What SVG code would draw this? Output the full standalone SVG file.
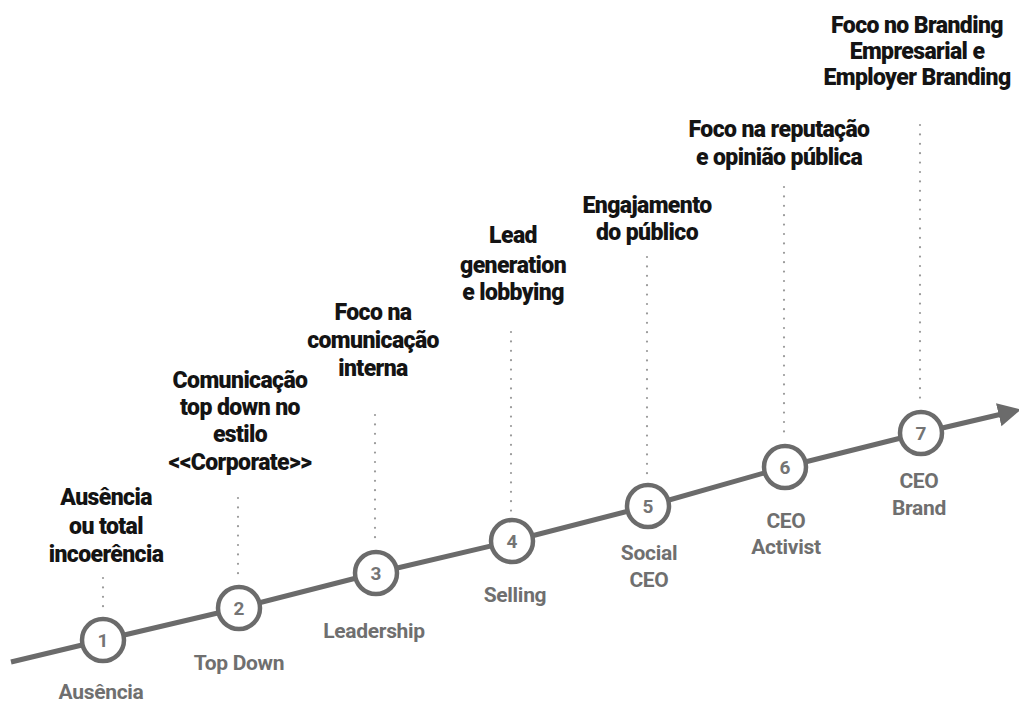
<svg xmlns="http://www.w3.org/2000/svg" width="1019" height="702" viewBox="0 0 1019 702">
<defs>
<style>
.desc{font-family:Roboto,"Liberation Sans",sans-serif;font-weight:900;font-size:23px;fill:#141414;text-anchor:middle;letter-spacing:-0.6px}
.lbl{font-family:Roboto,"Liberation Sans",sans-serif;font-weight:700;font-size:21px;fill:#6f6f6f;text-anchor:middle;letter-spacing:-0.3px}
.num{font-family:Roboto,"Liberation Sans",sans-serif;font-weight:700;font-size:19px;fill:#747474;text-anchor:middle}
.ring{fill:#ffffff;stroke:#6b6b6b;stroke-width:4.5}
.dots{stroke:#9a9a9a;stroke-width:2.2;stroke-linecap:round;stroke-dasharray:0 9.4;fill:none}
.axis{fill:none;stroke:#6b6b6b;stroke-width:5;stroke-linejoin:round}
</style>
<marker id="head" markerUnits="userSpaceOnUse" markerWidth="24" markerHeight="26" viewBox="0 -12 22 24" refX="5" refY="0" orient="auto">
<path d="M0,-11 L21,0 L0,11 z" fill="#6b6b6b"/>
</marker>
</defs>
<rect width="1019" height="702" fill="#ffffff"/>
<g id="connectors">
<polyline class="axis" points="11,662 103,640 239,608 376,573 512,541 648,506 785,467 921,433 1004,413.5" marker-end="url(#head)"/>
<line class="dots" x1="103" y1="578" x2="103" y2="612"/>
<line class="dots" x1="238" y1="498" x2="238" y2="580"/>
<line class="dots" x1="375" y1="415" x2="375" y2="546"/>
<line class="dots" x1="511" y1="332" x2="511" y2="513"/>
<line class="dots" x1="647" y1="257" x2="647" y2="480"/>
<line class="dots" x1="784" y1="187" x2="784" y2="440"/>
<line class="dots" x1="920" y1="125" x2="920" y2="406"/>
</g>
<g id="node1">
<circle class="ring" cx="103" cy="640" r="21"/>
<text class="num" x="103" y="647">1</text>
<text class="desc" x="106" y="505">Ausência</text>
<text class="desc" x="106" y="534">ou total</text>
<text class="desc" x="106" y="562">incoerência</text>
<text class="lbl" x="101" y="699">Ausência</text>
</g>
<g id="node2">
<circle class="ring" cx="239" cy="608" r="21"/>
<text class="num" x="239" y="615">2</text>
<text class="desc" x="240" y="388">Comunicação</text>
<text class="desc" x="240" y="415">top down no</text>
<text class="desc" x="240" y="442">estilo</text>
<text class="desc" x="240" y="470">&lt;&lt;Corporate&gt;&gt;</text>
<text class="lbl" x="239" y="670">Top Down</text>
</g>
<g id="node3">
<circle class="ring" cx="376" cy="573" r="21"/>
<text class="num" x="376" y="580">3</text>
<text class="desc" x="373" y="320">Foco na</text>
<text class="desc" x="373" y="348">comunicação</text>
<text class="desc" x="373" y="376">interna</text>
<text class="lbl" x="374" y="638">Leadership</text>
</g>
<g id="node4">
<circle class="ring" cx="512" cy="541" r="21"/>
<text class="num" x="512" y="548">4</text>
<text class="desc" x="513" y="243">Lead</text>
<text class="desc" x="513" y="273">generation</text>
<text class="desc" x="513" y="300">e lobbying</text>
<text class="lbl" x="515" y="602">Selling</text>
</g>
<g id="node5">
<circle class="ring" cx="648" cy="506" r="21"/>
<text class="num" x="648" y="513">5</text>
<text class="desc" x="647" y="213">Engajamento</text>
<text class="desc" x="647" y="240">do público</text>
<text class="lbl" x="649" y="560">Social</text>
<text class="lbl" x="649" y="587">CEO</text>
</g>
<g id="node6">
<circle class="ring" cx="785" cy="467" r="21"/>
<text class="num" x="785" y="474">6</text>
<text class="desc" x="779" y="137">Foco na reputação</text>
<text class="desc" x="779" y="165">e opinião pública</text>
<text class="lbl" x="786" y="528">CEO</text>
<text class="lbl" x="786" y="554">Activist</text>
</g>
<g id="node7">
<circle class="ring" cx="921" cy="433" r="21"/>
<text class="num" x="921" y="440">7</text>
<text class="desc" x="917" y="33">Foco no Branding</text>
<text class="desc" x="917" y="59">Empresarial e</text>
<text class="desc" x="917" y="85">Employer Branding</text>
<text class="lbl" x="919" y="488">CEO</text>
<text class="lbl" x="919" y="515">Brand</text>
</g>
</svg>
